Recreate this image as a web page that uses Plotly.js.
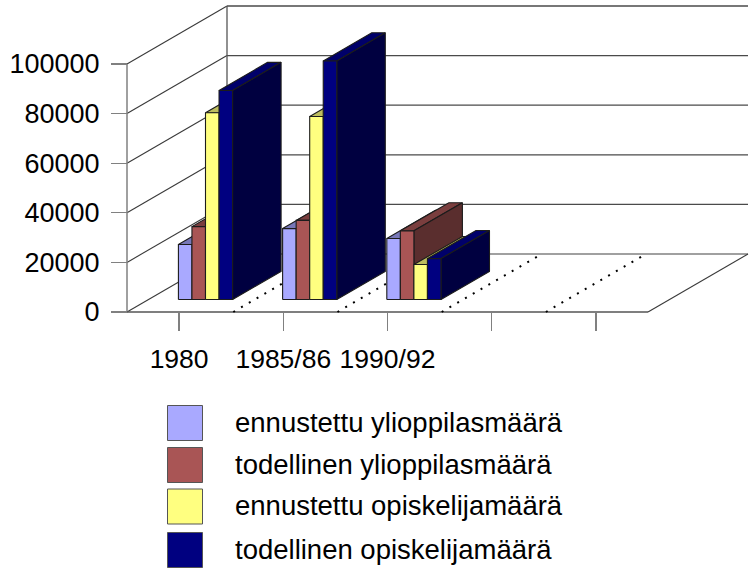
<!DOCTYPE html>
<html><head><meta charset="utf-8">
<script src="https://cdn.plot.ly/plotly-3.0.1.min.js"></script>
<style>html,body{margin:0;padding:0;background:#fff}</style>
</head><body><div id="chart" style="width:749px;height:568px"></div>
<script>
const categories = ["1980", "1985/86", "1990/92", "", ""];
const seriesNames = ["ennustettu ylioppilasmäärä", "todellinen ylioppilasmäärä", "ennustettu opiskelijamäärä", "todellinen opiskelijamäärä"];
const ennustettuYlioppilas = [22200, 28600, 24600, null, null];
const todellinenYlioppilas = [29400, 31900, 27700, null, null];
const ennustettuOpiskelija = [75300, 73800, 14100, null, null];
const todellinenOpiskelija = [84300, 96200, 16500, null, null];
const yTicks = [0, 20000, 40000, 60000, 80000, 100000];
const frontColors = ["#A9A9FF", "#A95555", "#FFFF80", "#000080"];
const topColors = ["#7878B8", "#7A3E3E", "#BDBD5E", "#00006A"];
const sideColors = ["#5C5C8C", "#5A2E2E", "#80803F", "#000040"];

const seriesValues = [ennustettuYlioppilas, todellinenYlioppilas, ennustettuOpiskelija, todellinenOpiskelija];
const PX_X = 104.2, PX_Y = 0.00248, W = 749, H = 568, X0 = 127, Y0 = 312;
const DEPTH_DX = 100 / PX_X, DEPTH_DY = 58 / PX_Y;
const px = (u, d) => u + d * DEPTH_DX;
const py = (v, d) => v + d * DEPTH_DY;
const GROUP_START = 0.287, BAR_W = 0.13, D0 = 0.215, D1 = 0.7;

function pushPoly(t, pts) {
  pts.concat([pts[0]]).forEach(p => { t.x.push(px(p[0], p[2])); t.y.push(py(p[1], p[2])); });
  t.x.push(null); t.y.push(null);
}
const traces = [];
function line(xs, ys, color, width, dash) {
  traces.push({x: xs, y: ys, mode: 'lines', line: {color, width, dash: dash || 'solid'}, hoverinfo: 'skip', showlegend: false});
}
const WALL = "#3a3a3a", AXIS = "#808080";
const XMAX = categories.length;
// back wall + side wall gridlines
yTicks.forEach(v => {
  line([px(0, 1), px(XMAX, 1)], [py(v, 1), py(v, 1)], v === 0 ? AXIS : "#4a4a4a", 1.3);
  line([px(0, 0), px(0, 1)], [py(v, 0), py(v, 1)], WALL, 1.1);
});
line([px(0, 1), px(0, 1)], [py(0, 1), py(100000, 1)], "#555", 1.3);
line([px(0, 0), px(0, 0)], [py(0, 0), py(100000, 0)], AXIS, 1.5);
line([px(0, 0), px(XMAX, 0)], [py(0, 0), py(0, 0)], "#555", 1.3);
line([px(XMAX, 0), px(XMAX, 1)], [py(0, 0), py(0, 1)], WALL, 1.1);
// dotted floor lines
[1, 2, 3, 4].forEach(k => {
  line([px(k + 0.02, 0), px(k + 0.02, 0.96)], [py(0, 0), py(0, 0.96)], "#000", 2, "2px,7px");
});
// bars
seriesValues.forEach((vals, s) => {
  const mk = (c, n) => ({x: [], y: [], mode: 'lines', fill: 'toself', fillcolor: c, name: n,
    line: {color: "#1c1c1c", width: 1.1}, showlegend: false, hoverinfo: 'skip'});
  const front = mk(frontColors[s], seriesNames[s]), top = mk(topColors[s], seriesNames[s]), side = mk(sideColors[s], seriesNames[s]);
  vals.forEach((v, c) => {
    if (v === null) return;
    const a = c + GROUP_START + s * BAR_W, b = a + BAR_W;
    pushPoly(top, [[a, v, D0], [b, v, D0], [b, v, D1], [a, v, D1]]);
    pushPoly(side, [[b, 0, D0], [b, v, D0], [b, v, D1], [b, 0, D1]]);
    pushPoly(front, [[a, 0, D0], [b, 0, D0], [b, v, D0], [a, v, D0]]);
  });
  traces.push(top, side, front);
});
const font = {family: 'Liberation Sans, Arial, sans-serif', color: '#000'};
const annotations = [], shapes = [];
const legendY = [423, 465, 506.5, 550];
seriesNames.forEach((n, i) => {
  shapes.push({type: 'rect', xref: 'paper', yref: 'paper', x0: 167.5 / W, x1: 202.5 / W,
    y0: 1 - (legendY[i] - 17.5) / H, y1: 1 - (legendY[i] + 17.5) / H,
    fillcolor: frontColors[i], line: {color: '#555', width: 1}});
  annotations.push({xref: 'paper', yref: 'paper', x: 233 / W, y: 1 - (legendY[i] - 1) / H, xanchor: 'left', yanchor: 'middle',
    text: n, showarrow: false, font: Object.assign({size: 27.5}, font)});
});
const layout = {
  width: W, height: H, margin: {l: 0, r: 0, t: 0, b: 0}, paper_bgcolor: '#fff', plot_bgcolor: '#fff', showlegend: false,
  xaxis: {range: [-X0 / PX_X, (W - X0) / PX_X], anchor: 'free', position: (H - Y0) / H, showgrid: false, zeroline: false,
    tickmode: 'array', tickvals: categories.map((c, i) => i + 0.5), ticktext: categories, ticks: 'outside', ticklen: 18, tickwidth: 1.3, tickcolor: AXIS,
    ticklabelstandoff: 5, tickfont: Object.assign({size: 26.5}, font), tickangle: 0, showline: false},
  yaxis: {range: [(Y0 - H) / PX_Y, Y0 / PX_Y], anchor: 'free', position: X0 / W, showgrid: false, zeroline: false,
    tickmode: 'array', tickvals: yTicks, ticktext: yTicks.map(String), ticks: 'outside', ticklen: 16, tickwidth: 1.3, tickcolor: AXIS,
    ticklabelstandoff: 6, tickfont: Object.assign({size: 27}, font), showline: false},
  shapes, annotations
};
Plotly.newPlot('chart', traces, layout, {displayModeBar: false, staticPlot: true});
</script></body></html>
